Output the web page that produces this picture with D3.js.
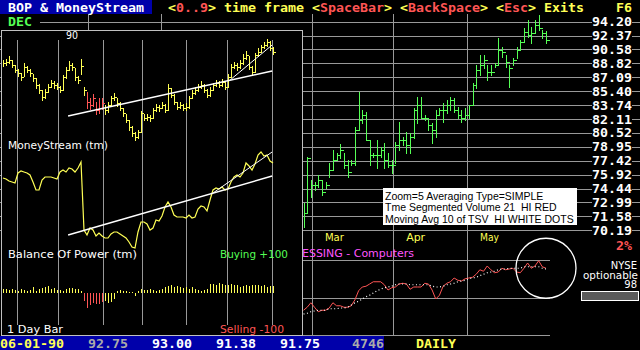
<!DOCTYPE html>
<html>
<head>
<meta charset="utf-8">
<script src="https://cdn.jsdelivr.net/npm/d3@7"></script>
<style>
  body { margin: 0; background: #000; }
  svg { display: block; }
</style>
</head>
<body>
<svg id="chart" width="640" height="350"></svg>
<script>
// ---- data ----
// right chart: daily bars, late Feb .. 06-01-90
const rHigh = [72.93,77.83,75.35,75.14,75.88,75.35,75.14,77.17,78.60,78.27,
  79.26,78.27,77.50,77.50,81.20,85.30,83.17,82.93,79.71,78.27,
  79.71,78.93,79.37,78.27,77.50,79.49,81.77,80.05,80.63,80.51,
  83.40,84.71,84.71,82.58,82.23,81.65,83.17,83.40,83.99,84.35,
  84.71,84.59,83.52,83.17,83.40,83.75,86.39,88.62,89.88,89.88,
  88.62,88.62,88.87,92.06,90.90,89.88,88.62,89.50,90.90,91.80,
  93.37,94.43,93.50,94.43,95.09,93.10,93.00];
const rLow = [70.51,71.92,73.56,74.28,74.60,73.77,74.49,75.67,76.42,77.50,
  77.72,76.63,75.67,76.96,76.96,80.86,81.65,79.71,76.96,77.83,
  76.63,77.83,76.63,76.74,76.09,77.17,78.60,79.15,78.27,78.27,
  79.94,81.65,82.23,82.00,80.86,79.37,80.05,82.58,81.77,82.82,
  83.17,82.93,82.23,81.77,82.00,82.23,83.75,85.79,87.38,88.25,
  86.76,87.38,88.37,88.62,89.63,88.37,85.91,88.62,89.50,90.52,
  91.54,92.19,91.41,92.71,93.10,92.06,91.38];
const rClose = [71.92,77.70,74.82,74.82,75.35,74.08,74.82,76.42,77.50,78.05,
  78.60,76.96,76.20,77.17,80.86,82.00,82.58,79.71,78.05,78.05,
  78.05,78.60,77.50,76.96,76.96,79.15,79.71,79.71,79.15,80.05,
  83.17,83.75,82.23,82.23,81.43,80.86,82.58,83.17,83.17,83.75,
  84.35,83.17,82.58,82.23,82.58,83.75,86.15,88.00,88.62,89.25,
  87.75,87.75,88.62,90.52,90.26,88.99,88.25,89.25,90.52,91.54,
  92.84,92.45,92.71,93.76,93.37,92.71,91.75];
const priceTicks = [94.20,92.37,90.58,88.82,87.09,85.40,83.74,82.11,80.52,78.95,77.42,75.92,74.44,72.99,71.58,70.19];
const monthGrid = [-58.6, -38.8, 2.3, 24.4, 44.5];
const monthLabels = ['Mar', 'Apr', 'May'];
const monthIdx = [2.3, 24.4, 44.5];

// group index (sector) and its moving average
const sector = [33,37,43,37,31,33,33,36,43,39,39,37,37,39,47,59,64,65,68,71,
  71,71,67,60,63,64,68,69,68,61,64,64,64,69,68,60,48,53,65,69,
  71,76,73,72,75,76,77,81,87,85,92,87,83,84,89,87,88,89,84,83,
  89,96,89,92,99,91,89];
const sectorAvg = [28,29,31,32,33,33,33,35,35,35,36,36,37,40,43,45,48,51,53,56,
  59,61,63,64,65,67,68,68,68,67,67,67,67,67,67,65,64,64,65,67,
  68,69,71,72,73,75,76,77,79,81,83,84,85,87,88,88,89,89,89,89,
  91,91,91,91,91,89,88];
const sectorGrid = [0, 50, 100];

// left window: longer time frame
const leftClose = [89.25,89.5,90,88.75,87.5,86.75,85.75,88.25,87.5,86.75,
  85.5,83.75,82.5,80.75,82,83.25,84.25,83.75,83.25,82.5,
  85.75,87.5,88.75,88.25,85.75,85,88.5,82.5,79.5,78.75,
  80.5,77.5,78,79.25,77.5,78.75,80.5,80.75,79.25,78,
  76.75,75,73.25,71.75,70.75,72,76.75,75.5,75.75,75.5,
  77.5,78.25,78,78.75,77.5,83,81.25,79.5,78.25,78.75,
  78,78.25,80.5,81.75,82.5,83.25,83.75,82.5,81.25,82.5,
  83.75,84.25,83.75,84.5,83.25,85.75,88.25,88.75,88.25,89.25,
  90.5,91.25,88.25,87,91.25,92,93.25,93.75,94.5,93,
  92];
const leftHigh = [90,90.25,91,90,88.75,87.75,86.75,89.25,88.5,87.75,
  86.5,85.5,84,82.5,82.75,84,85,84.75,84.25,83.5,
  86.25,88.25,89.75,89.25,88,86,90.25,83.25,82,80.5,
  81.5,79.5,80.5,80.5,78.75,79.5,81,81.75,80.5,79.5,
  78,76.5,75,73.5,72,72.5,77.25,76.5,76.5,76.25,
  78,79,78.75,79.5,79,84,83,81.5,79.5,79.5,
  79,79.25,81,82.5,83.25,84,84.75,84,82.75,83.25,
  84.25,85,84.75,85.25,84.75,86.5,89,89.5,89.25,90,
  91.5,92.25,91,88.5,91.75,93,93.75,94.5,95.25,94.75,
  93.25];
const leftLow = [88.5,88.75,89.25,88.25,87,86,85,86,87,86,
  84.75,83,81.75,80,80.5,82,83.25,83,82.75,82,
  82.5,85.5,87.5,87.5,85,84.25,86.5,81.25,78,77.75,
  78.5,76.5,76.75,77.75,76.5,77,78.5,80,78.5,77.5,
  76,74.5,72.5,71,70,70.5,72,75,75,74.75,
  75.5,77.25,77.25,78,77,77.5,80.75,79,77.75,78,
  77.5,77.5,78,80.5,81.5,82.25,83,82,80.75,81,
  82.5,83.5,83.25,83.5,82.75,83.25,85.75,88,87.5,88,
  89,90.25,87.75,86.5,87,91,92,93,93.5,92.5,
  91.5];
const priceRedDays = [28,29,30,31,32,33];
const moneyStream = [72,71,69,68,67,77,79,78,77,75,
  68,60,60,70,73,73,73,72,71,78,
  80,78,82,81,78,82,88,20,15,22,
  20,14,17,14,12,12,16,18,18,16,
  14,12,8,3,2,18,28,28,26,20,
  22,30,29,34,43,48,43,35,33,33,
  33,32,35,32,33,41,44,43,39,50,
  60,62,61,63,60,61,68,73,75,73,
  77,87,84,80,86,95,98,94,95,89,
  87];
const bop = [11,11,8,10,8,6,10,8,6,8,
  15,6,11,13,15,18,11,13,8,8,
  6,10,13,13,11,10,5,-20,-40,-32,
  -26,-28,-30,-24,-20,-26,-24,-16,6,8,
  6,5,3,2,-7,6,10,8,8,10,
  8,5,8,11,15,18,20,16,18,15,
  13,15,10,16,10,8,6,8,10,24,
  24,22,26,24,22,21,24,21,20,16,
  18,22,18,20,21,20,18,21,16,18,
  18];
const bopRedDays = [27,28,29,30,31,32,33];
const leftGrid = [4.7, 18.3, 33.3, 46.3, 61, 74.7, 89.7];
// trend lines: [i0, v0, i1, v1]
const priceTrends = [[21.7, 76, 89.7, 87.25], [75.7, 85, 89.7, 93.75]];
const msTrends = [[21.7, 15, 89.7, 74], [70, 57, 89.7, 98]];

const lastBar = ['06-01-90', 92.75, 93.00, 91.38, 91.75, 4746];

// ---- palette / fonts ----
const BLUE = '#0000aa', YEL = '#ffff55', RED = '#ff5555', GRN = '#55ff55',
      MAG = '#ff55ff', WHT = '#ffffff', LGRAY = '#aaaaaa', GRID = '#999999';
const MONO = "'DejaVu Sans Mono', 'Liberation Mono', monospace";
const SANS = "'DejaVu Sans', sans-serif";

const svg = d3.select('#chart');
svg.append('rect').attr('width', 640).attr('height', 350).attr('fill', '#000');

// ---- scales ----
const xR = d3.scaleLinear().domain([0, 66]).range([303.5, 546]);
const yR = d3.scaleLog().domain([70.19, 94.20]).range([230.2, 21.7]);
const yS = d3.scaleLinear().domain([0, 100]).range([335, 260]);
const xL = d3.scaleLinear().domain([0, 90]).range([3, 273]);
const yL = d3.scaleLinear().domain([69, 96]).range([144, 36]);
const yM = d3.scaleLinear().domain([0, 100]).range([250, 150]);
const yB = d3.scaleLinear().domain([-100, 100]).range([331, 255]);
const px = v => Math.round(v) + 0.5;

// text mode cell text (8x14 characters)
function cells(col, row, str, color) {
  svg.append('text')
    .attr('x', col * 8).attr('y', row * 14 + 12)
    .attr('font-family', MONO).attr('font-weight', 'bold').attr('font-size', 12.5)
    .attr('textLength', str.length * 8).attr('lengthAdjust', 'spacingAndGlyphs')
    .attr('fill', color).text(str);
}
function cellBg(col, row, n, color) {
  svg.append('rect').attr('x', col * 8).attr('y', row * 14)
    .attr('width', n * 8).attr('height', 14).attr('fill', color);
}
// graphics text
function gtext(g, x, y, str, color, len, anchor) {
  const t = g.append('text').attr('x', x).attr('y', y)
    .attr('font-family', SANS).attr('font-size', 10)
    .attr('fill', color).attr('text-anchor', anchor || 'start').text(str);
  if (len) t.attr('textLength', len).attr('lengthAdjust', 'spacingAndGlyphs');
  return t;
}

// ---- right chart grid ----
const grid = svg.append('g').attr('stroke', GRID).attr('shape-rendering', 'crispEdges');
grid.selectAll('line.h').data(priceTicks).join('line').attr('class', 'h')
  .attr('x1', 0).attr('x2', 640)
  .attr('y1', d => px(yR(d))).attr('y2', d => px(yR(d)));
grid.selectAll('line.v').data(monthGrid).join('line').attr('class', 'v')
  .attr('x1', d => px(xR(d))).attr('x2', d => px(xR(d)))
  .attr('y1', 14).attr('y2', 335);
grid.selectAll('line.s').data(sectorGrid).join('line').attr('class', 's')
  .attr('x1', xR(-1)).attr('x2', xR(67))
  .attr('y1', d => px(yS(d))).attr('y2', d => px(yS(d)));

// ---- price bars ----
const idxR = d3.range(rClose.length);
const bars = svg.append('g').attr('stroke', GRN).attr('shape-rendering', 'crispEdges');
bars.selectAll('line.hl').data(idxR).join('line').attr('class', 'hl')
  .attr('x1', i => px(xR(i))).attr('x2', i => px(xR(i)))
  .attr('y1', i => Math.round(yR(rHigh[i]))).attr('y2', i => Math.round(yR(rLow[i])) + 1);
bars.selectAll('line.c').data(idxR).join('line').attr('class', 'c')
  .attr('x1', i => px(xR(i))).attr('x2', i => px(xR(i)) + 3)
  .attr('y1', i => px(yR(rClose[i]))).attr('y2', i => px(yR(rClose[i])));

// ---- legend box ----
svg.append('rect').attr('x', 383).attr('y', 188).attr('width', 194).attr('height', 37).attr('fill', WHT);
const legendLines = ['Zoom=5 Averaging Type=SIMPLE', 'Tme Segmented Volume 21  HI RED', 'Moving Avg 10 of TSV  HI WHITE DOTS'];
svg.selectAll('text.leg').data(legendLines).join('text').attr('class', 'leg')
  .attr('x', 385).attr('y', (d, i) => 199.5 + i * 11.5)
  .attr('font-family', "'Liberation Sans', Arial, sans-serif").attr('font-size', 10.5)
  .attr('fill', '#000').style('white-space', 'pre').text(d => d);

// ---- month labels & sector title (its left part sits behind the window) ----
monthLabels.forEach((m, k) => gtext(svg, xR(monthIdx[k]) + 13, 240.5, m, YEL, 19));
gtext(svg, 302, 256.5, 'ESSING - Computers', MAG, 112);

// ---- sector line, average dots, circle ----
svg.append('path').datum(sector)
  .attr('d', d3.line().x((d, i) => xR(i)).y(d => yS(d)))
  .attr('fill', 'none').attr('stroke', RED).attr('stroke-width', 1);
svg.append('path').datum(sectorAvg)
  .attr('d', d3.line().x((d, i) => xR(i)).y(d => yS(d)))
  .attr('fill', 'none').attr('stroke', WHT).attr('stroke-width', 1.2)
  .attr('stroke-dasharray', '1 2.5');
svg.append('circle').attr('cx', xR(66)).attr('cy', yS(89)).attr('r', 30)
  .attr('fill', 'none').attr('stroke', WHT).attr('stroke-width', 1.3);

// ---- price tick labels ----
const tl = svg.append('g');
tl.selectAll('rect').data(priceTicks).join('rect')
  .attr('x', 592).attr('y', d => yR(d) - 6).attr('width', 40).attr('height', 12).attr('fill', '#000');
tl.selectAll('text').data(priceTicks).join('text')
  .attr('x', 592).attr('y', d => yR(d) + 4.5)
  .attr('font-family', MONO).attr('font-weight', 'bold').attr('font-size', 12.5)
  .attr('textLength', 40).attr('lengthAdjust', 'spacingAndGlyphs')
  .attr('fill', WHT).text(d => d.toFixed(2));

cells(77, 17, '2%', RED);
gtext(svg, 637, 269, 'NYSE', WHT, null, 'end');
gtext(svg, 638, 278.5, 'optionable', WHT, 55, 'end');
gtext(svg, 637, 288, '98', WHT, null, 'end');
svg.append('rect').attr('x', 581.5).attr('y', 291.5).attr('width', 57).attr('height', 9)
  .attr('fill', '#5a5a5a').attr('stroke', WHT);

// ---- left window ----
const lp = svg.append('g');
lp.append('rect').attr('x', 1.5).attr('y', 30.5).attr('width', 301).attr('height', 305)
  .attr('fill', '#000').attr('stroke', '#c0c0c0');
lp.append('g').attr('stroke', GRID).attr('shape-rendering', 'crispEdges')
  .selectAll('line').data(leftGrid).join('line')
  .attr('x1', d => px(xL(d))).attr('x2', d => px(xL(d)))
  .attr('y1', 40).attr('y2', 325);

const idxL = d3.range(leftClose.length);
const lcol = i => priceRedDays.includes(i) ? RED : YEL;
const lb = lp.append('g').attr('shape-rendering', 'crispEdges');
lb.selectAll('line.hl').data(idxL).join('line').attr('class', 'hl')
  .attr('x1', i => px(xL(i))).attr('x2', i => px(xL(i)))
  .attr('y1', i => Math.round(yL(leftHigh[i]))).attr('y2', i => Math.round(yL(leftLow[i])) + 1)
  .attr('stroke', lcol);
lb.selectAll('line.c').data(idxL).join('line').attr('class', 'c')
  .attr('x1', i => px(xL(i))).attr('x2', i => px(xL(i)) + 2)
  .attr('y1', i => px(yL(leftClose[i]))).attr('y2', i => px(yL(leftClose[i])))
  .attr('stroke', lcol);

lp.selectAll('line.pt').data(priceTrends).join('line').attr('class', 'pt')
  .attr('x1', d => xL(d[0])).attr('y1', d => yL(d[1]))
  .attr('x2', d => xL(d[2])).attr('y2', d => yL(d[3]))
  .attr('stroke', WHT).attr('stroke-width', (d, i) => i ? 1 : 1.4);

lp.append('path').datum(moneyStream)
  .attr('d', d3.line().x((d, i) => xL(i)).y(d => yM(d)))
  .attr('fill', 'none').attr('stroke', YEL).attr('stroke-width', 1.2);
lp.selectAll('line.mt').data(msTrends).join('line').attr('class', 'mt')
  .attr('x1', d => xL(d[0])).attr('y1', d => yM(d[1]))
  .attr('x2', d => xL(d[2])).attr('y2', d => yM(d[3]))
  .attr('stroke', WHT).attr('stroke-width', (d, i) => i ? 1 : 1.4);

lp.append('g').attr('shape-rendering', 'crispEdges')
  .selectAll('line').data(idxL).join('line')
  .attr('x1', i => px(xL(i))).attr('x2', i => px(xL(i)))
  .attr('y1', yB(0)).attr('y2', i => yB(bop[i]))
  .attr('stroke', i => bopRedDays.includes(i) ? RED : YEL);

gtext(lp, xL(23), 38.5, '90', WHT, 12, 'middle');
gtext(lp, 8, 148.5, 'MoneyStream (tm)', WHT, 100);
gtext(lp, 8, 258, 'Balance Of Power (tm)', WHT, 129);
gtext(lp, 220, 258, 'Buying +100', GRN, 68);
gtext(lp, 7, 333, '1 Day Bar', WHT, 56);
gtext(lp, 220, 333, 'Selling -100', RED, 64);

// ---- text rows ----
cellBg(0, 0, 19, BLUE);
cells(1, 0, 'BOP & MoneyStream', WHT);
[[21, '<', YEL], [22, '0..9', RED], [26, '>', YEL], [28, 'time frame', YEL],
 [39, '<', YEL], [40, 'SpaceBar', RED], [48, '>', YEL],
 [50, '<', YEL], [51, 'BackSpace', RED], [60, '>', YEL],
 [62, '<', YEL], [63, 'Esc', RED], [66, '>', YEL], [68, 'Exits', YEL], [77, 'F6', YEL]]
  .forEach(d => cells(d[0], 0, d[1], d[2]));

cellBg(0, 1, 5, '#000');
cells(1, 1, 'DEC', GRN);

cellBg(0, 24, 48, BLUE);
cellBg(48, 24, 32, '#000');
cells(0, 24, lastBar[0], YEL);
cells(11, 24, lastBar[1].toFixed(2), LGRAY);
cells(19, 24, lastBar[2].toFixed(2), WHT);
cells(27, 24, lastBar[3].toFixed(2), WHT);
cells(35, 24, lastBar[4].toFixed(2), WHT);
cells(44, 24, String(lastBar[5]), LGRAY);
cells(52, 24, 'DAILY', YEL);
</script>
</body>
</html>
